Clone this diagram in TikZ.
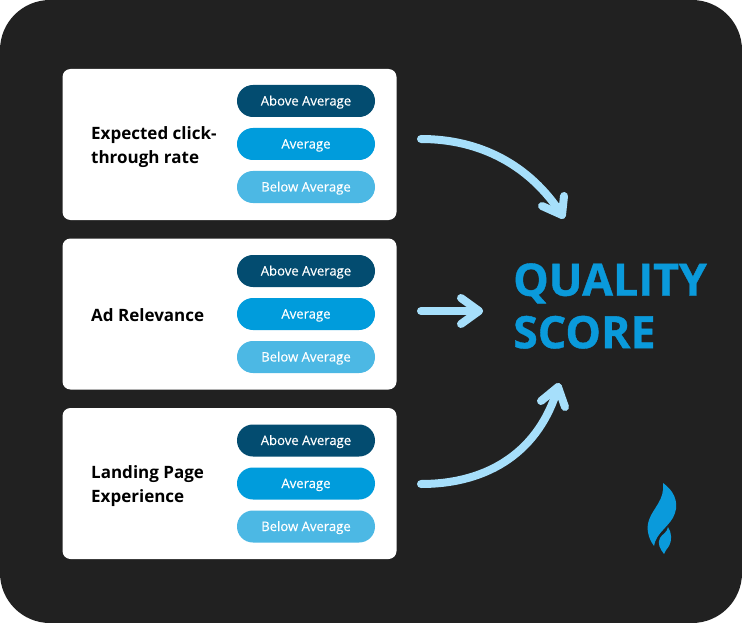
\documentclass[tikz,border=0pt]{standalone}
\usepackage{fontspec}
\setmainfont{Open Sans}
\newfontfamily\pillfont[FakeBold=0.25]{Open Sans}
\newfontfamily\titlefont[BoldFeatures={FakeBold=0.9}]{Open Sans}
\definecolor{bgdark}{HTML}{212121}
\definecolor{pilldark}{HTML}{034C70}
\definecolor{pillmid}{HTML}{009CDC}
\definecolor{pilllight}{HTML}{4CB8E4}
\definecolor{arrowblue}{HTML}{A6DFFB}
\definecolor{titleblue}{HTML}{0A9ADB}
\tikzset{
  card/.style={fill=white,rounded corners=8pt,minimum width=334pt,minimum height=151pt,inner sep=0pt},
  pill/.style={rounded corners=15.9pt,minimum width=138pt,minimum height=32pt,inner sep=0pt,text=white,text height=12pt,text depth=3pt,font=\pillfont\fontsize{13.1}{15}\selectfont},
  above/.style={pill,fill=pilldark},
  avg/.style={pill,fill=pillmid},
  below/.style={pill,fill=pilllight},
  cardlabel/.style={anchor=west,align=left,font=\fontsize{17}{24}\selectfont\bfseries,text=black,inner sep=0pt},
  flow/.style={draw=arrowblue,line width=8pt,line cap=round,line join=round},
}
\begin{document}
\begin{tikzpicture}[x=1pt,y=-1pt]
\useasboundingbox (0,0) rectangle (742,623);
\fill[white] (0,0) rectangle (742,623);
\fill[bgdark,rounded corners=50pt] (0,0) rectangle (742,623);

\node[card] (c1) at (229.5,144.5) {};
\node[card] (c2) at (229.5,314) {};
\node[card] (c3) at (229.5,483.5) {};

\node[cardlabel] (l1) at (91,147) {Expected click-\\through rate};
\node[cardlabel] (l2) at (91,315) {Ad Relevance};
\node[cardlabel] (l3) at (91,486.5) {Landing Page\\Experience};

\node[above] (a1) at (306,101) {Above Average};
\node[avg]   (m1) at (306,144) {Average};
\node[below] (b1) at (306,187) {Below Average};
\node[above] (a2) at (306,271) {Above Average};
\node[avg]   (m2) at (306,314) {Average};
\node[below] (b2) at (306,357) {Below Average};
\node[above] (a3) at (306,440.5) {Above Average};
\node[avg]   (m3) at (306,483.5) {Average};
\node[below] (b3) at (306,526.5) {Below Average};

\node[anchor=west,align=left,inner sep=0pt,text=titleblue,font=\titlefont\fontsize{44.7}{52.5}\selectfont\bfseries] (title) at (513,306) {QUALITY\\SCORE};

\coordinate (s1) at (421,139);
\coordinate (t1) at (562,215);
\coordinate (s2) at (421,311);
\coordinate (t2) at (479,311);
\coordinate (s3) at (421,484);
\coordinate (t3) at (558,387);
\draw[flow] (s1) .. controls (480,139) and (530,165) .. (t1);
\draw[flow] (542,206) -- (t1) -- (564,196);
\draw[flow] (s2) -- (t2);
\draw[flow] (461,298) -- (t2) -- (461,324);
\draw[flow] (s3) .. controls (490,484) and (540,450) .. (t3);
\draw[flow] (541,401) -- (t3) -- (565,407);

\fill[titleblue] (663,483) .. controls (673,490) and (679,501) .. (675,513)
  .. controls (671,526) and (656,532) .. (654,546)
  .. controls (648,538) and (646,528) .. (649,520)
  .. controls (653,508) and (665,500) .. (663,483) -- cycle;
\fill[titleblue] (668,527) .. controls (672,533) and (672,541) .. (669,546)
  .. controls (667,549) and (665,551) .. (664,554)
  .. controls (660,549) and (657,543) .. (660,538)
  .. controls (662,534) and (667,533) .. (668,527) -- cycle;
\end{tikzpicture}
\end{document}
